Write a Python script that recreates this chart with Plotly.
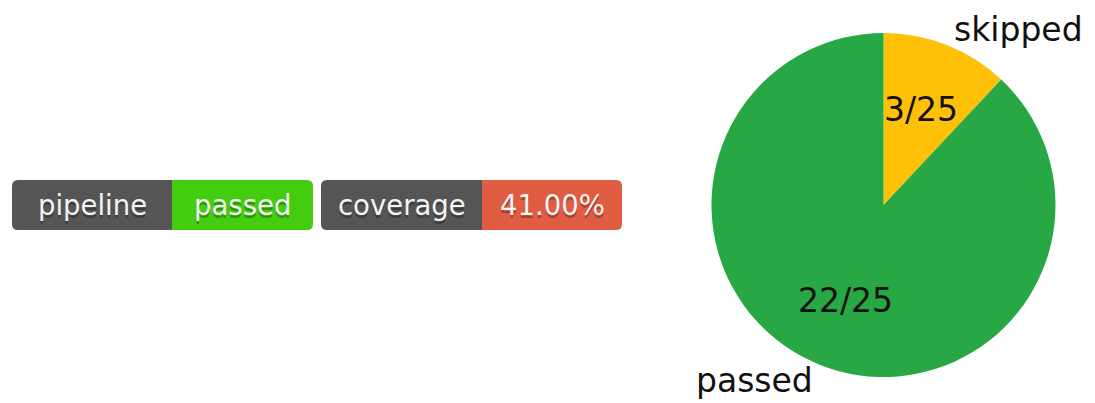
import math
import plotly.graph_objects as go

# ---- data ----
pie_labels = ["skipped", "passed"]
pie_values = [3, 22]
pie_colors = ["#ffc107", "#28a745"]

badge_labels = ["pipeline", "coverage"]
badge_values = ["passed", "41.00%"]
badge_value_colors = ["#44cc11", "#e05d44"]

# ---- layout constants (pixels) ----
W, H = 1095, 403
badge_boxes = [(12, 172, 313), (321, 482, 622)]  # left, split, right
badge_top, badge_bot = 180, 230
corner = 6
pie_cx, pie_cy, pie_r = 883.5, 205, 172
FONT = "DejaVu Sans"


def px(x):
    return x / W


def py(y):
    return 1 - y / H


def rounded_path(x0, x1, y0, y1, rl, rr):
    pts = [f"M {px(x0 + rl)},{py(y0)}", f"L {px(x1 - rr)},{py(y0)}"]
    if rr:
        pts.append(f"Q {px(x1)},{py(y0)} {px(x1)},{py(y0 + rr)}")
    pts.append(f"L {px(x1)},{py(y1 - rr)}")
    if rr:
        pts.append(f"Q {px(x1)},{py(y1)} {px(x1 - rr)},{py(y1)}")
    pts.append(f"L {px(x0 + rl)},{py(y1)}")
    if rl:
        pts.append(f"Q {px(x0)},{py(y1)} {px(x0)},{py(y1 - rl)}")
    pts.append(f"L {px(x0)},{py(y0 + rl)}")
    if rl:
        pts.append(f"Q {px(x0)},{py(y0)} {px(x0 + rl)},{py(y0)}")
    pts.append("Z")
    return " ".join(pts)


shapes = []
annotations = []
for (x0, xs, x1), lab, val, col in zip(badge_boxes, badge_labels, badge_values, badge_value_colors):
    shapes.append(dict(type="path", xref="paper", yref="paper",
                       path=rounded_path(x0, xs + 1, badge_top, badge_bot, corner, 0),
                       fillcolor="#555555", line=dict(width=0), layer="below"))
    shapes.append(dict(type="path", xref="paper", yref="paper",
                       path=rounded_path(xs, x1, badge_top, badge_bot, 0, corner),
                       fillcolor=col, line=dict(width=0), layer="below"))
    ymid = (badge_top + badge_bot) / 2
    for text, cx in ((lab, (x0 + xs) / 2), (val, (xs + x1) / 2)):
        annotations.append(dict(x=px(cx), y=py(ymid), xref="paper", yref="paper",
                                text=text, showarrow=False, xanchor="center", yanchor="middle",
                                font=dict(family=FONT, size=27.5, color="#f4f4f4",
                                          shadow="0px 2.5px 0px rgba(1,1,1,0.3)")))

dom_x = [px(pie_cx - pie_r), px(pie_cx + pie_r)]
dom_y = [py(pie_cy + pie_r), py(pie_cy - pie_r)]

fig = go.Figure()
fig.add_trace(go.Pie(
    labels=pie_labels, values=pie_values, sort=False, direction="clockwise",
    rotation=0, marker=dict(colors=pie_colors, line=dict(width=0)),
    textinfo="none", hoverinfo="label+value", showlegend=False,
    domain=dict(x=dom_x, y=dom_y),
))

# label positions derived from the data (matplotlib-style: pct at 0.6r, label at 1.1r)
total = sum(pie_values)
cum = 0
for lab, v in zip(pie_labels, pie_values):
    mid = 90 - 360 * (cum + v / 2) / total
    cum += v
    c, s = math.cos(math.radians(mid)), math.sin(math.radians(mid))
    annotations.append(dict(x=px(pie_cx + 0.6 * c * pie_r), y=py(pie_cy - 0.6 * s * pie_r),
                            xref="paper", yref="paper", text=f"{v}/{total}",
                            showarrow=False, xanchor="center", yanchor="middle",
                            font=dict(family=FONT, size=33, color="#111111")))
    annotations.append(dict(x=px(pie_cx + 1.1 * c * pie_r), y=py(pie_cy - 1.1 * s * pie_r),
                            xref="paper", yref="paper", text=lab,
                            showarrow=False, xanchor="left" if c > 0 else "right",
                            yanchor="middle", borderpad=0,
                            font=dict(family=FONT, size=33, color="#111111")))

fig.update_layout(
    width=W, height=H, margin=dict(l=0, r=0, t=0, b=0),
    paper_bgcolor="white", plot_bgcolor="white",
    xaxis=dict(visible=False), yaxis=dict(visible=False),
    shapes=shapes, annotations=annotations,
)

fig.write_html("out.html", config={"displayModeBar": False},
               post_script="document.body.style.margin='0';")
